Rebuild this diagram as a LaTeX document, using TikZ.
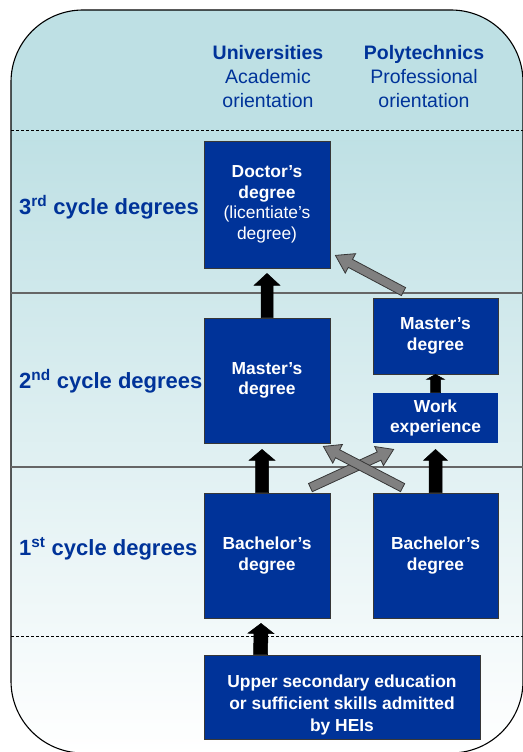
\documentclass[tikz,border=0pt]{standalone}
\usepackage{fontspec}
\setmainfont{Liberation Sans}
\usetikzlibrary{calc}
\definecolor{fi_blue}{RGB}{0,51,153}
\definecolor{fi_teal}{RGB}{190,224,228}
\definecolor{fi_arrow}{RGB}{128,128,128}
\definecolor{fi_edge}{RGB}{55,55,55}
\tikzstyle{box}=[rectangle,fill=fi_blue,draw=fi_edge,line width=0.8pt,text=white,
  font=\fontsize{17.4}{20.5}\selectfont\bfseries,align=center,inner sep=0pt]
\tikzstyle{hdr}=[text=fi_blue,font=\fontsize{19.5}{24}\selectfont,align=center,inner sep=0pt]
\tikzstyle{cyc}=[text=fi_blue,font=\fontsize{22}{26}\selectfont\bfseries,anchor=west,inner sep=0pt]
\tikzstyle{blk}=[fill=black,draw=black,line width=0.5pt]
\tikzstyle{gry}=[fill=fi_arrow,draw=fi_edge,line width=0.8pt]
\tikzstyle{divider}=[line width=1.2pt,black!60]
\tikzstyle{dashdiv}=[line width=0.9pt,dash pattern=on 3pt off 2pt]
\newcommand\blockarrow[6][]{%
  \coordinate (ba-neck) at ($(#3)!#6!(#2)$);
  \draw[#1] ($(#2)!#4!90:(#3)$) -- ($(ba-neck)!#4!90:(#3)$) -- ($(ba-neck)!#5!90:(#3)$) -- (#3)
    -- ($(ba-neck)!#5!-90:(#3)$) -- ($(ba-neck)!#4!-90:(#3)$) -- ($(#2)!#4!-90:(#3)$) -- cycle;}
\begin{document}
\begin{tikzpicture}[x=1pt,y=-1pt]
  \useasboundingbox (0,0) rectangle (522,752);
  \begin{scope}
    \clip[rounded corners=72pt] (11,10) rectangle (523,753);
    \fill[fi_teal] (11,10) rectangle (523,130);
    \shade[top color=fi_teal,bottom color=white] (11,130) rectangle (523,753);
  \end{scope}
  \draw[line width=1.1pt,rounded corners=72pt] (11,10) rectangle (523,753);
  \draw[style=dashdiv] (11,130) -- (523,130);
  \draw[style=divider] (11,293) -- (523,293);
  \draw[style=divider] (11,467) -- (523,467);
  \draw[style=dashdiv] (11,636) -- (523,636);

  \node[style=hdr] (uni) at (268,77) {\textbf{Universities}\\Academic\\orientation};
  \node[style=hdr] (poly) at (424,77) {\textbf{Polytechnics}\\Professional\\orientation};

  \node[style=cyc] (c3) at (19,207) {3\textsuperscript{rd} cycle degrees};
  \node[style=cyc] (c2) at (19,381) {2\textsuperscript{nd} cycle degrees};
  \node[style=cyc] (c1) at (19,549) {1\textsuperscript{st} cycle degrees};

  \node[style=box,minimum width=126pt,minimum height=127pt] (doct) at (267,204.5)
    {Doctor's\\degree\\\mdseries(licentiate's\\\mdseries degree)};
  \node[style=box,minimum width=126pt,minimum height=125pt] (mastU) at (267,380.5) {Master's\\degree};
  \node[style=box,minimum width=126pt,minimum height=125pt] (bachU) at (267,555.5) {Bachelor's\\degree};
  \node[style=box,minimum width=125pt,minimum height=76pt] (mastP) at (435.5,336) {Master's\\degree};
  \node[style=box,draw=none,minimum width=125pt,minimum height=50pt] (work) at (435.5,418) {Work\\experience};
  \node[style=box,minimum width=125pt,minimum height=125pt] (bachP) at (435.5,555.5) {Bachelor's\\degree};
  \node[style=box,minimum width=276pt,minimum height=84pt,font=\fontsize{17.4}{22}\selectfont\bfseries] (upper) at (342,697)
    {\raisebox{0pt}[\dimexpr\height+16pt\relax][\depth]{\begin{tabular}{@{}c@{}}Upper secondary education\\
      or sufficient skills admitted\\by HEIs\end{tabular}}};

  \coordinate (a1) at ($(doct.south)+(0,5)$);
  \coordinate (a2s) at ($(bachU.north)+(-5,0)$);
  \coordinate (a2e) at ($(mastU.south)+(-5,6)$);
  \coordinate (a3) at ($(work.south)+(0,6)$);
  \coordinate (a5s) at ($(upper.north west)+(57,0)$);
  \coordinate (a5e) at ($(bachU.south)+(-6,5)$);
  \blockarrow[style=blk]{mastU.north}{a1}{6pt}{13pt}{12pt}
  \blockarrow[style=blk]{a2s}{a2e}{6.5pt}{13pt}{11pt}
  \blockarrow[style=blk]{bachP.north}{a3}{6.5pt}{12pt}{11pt}
  \blockarrow[style=blk]{work.north}{mastP.south}{5pt}{9pt}{5pt}
  \blockarrow[style=blk]{a5s}{a5e}{7pt}{13pt}{10pt}

  \coordinate (g1s) at ($(mastP.north)+(-32,-6)$);
  \coordinate (g1e) at ($(doct.south east)+(5,-13)$);
  \coordinate (g2s) at ($(bachU.north east)+(-20,-5)$);
  \coordinate (g2e) at ($(work.south west)+(21,6)$);
  \coordinate (g3s) at ($(bachP.north west)+(30,-5)$);
  \coordinate (g3e) at ($(mastU.south east)+(-7,3)$);
  \blockarrow[style=gry]{g1s}{g1e}{4.5pt}{11pt}{17pt}
  \blockarrow[style=gry]{g2s}{g2e}{4.5pt}{10.5pt}{16pt}
  \blockarrow[style=gry]{g3s}{g3e}{4.5pt}{10.5pt}{16pt}
\end{tikzpicture}
\end{document}
